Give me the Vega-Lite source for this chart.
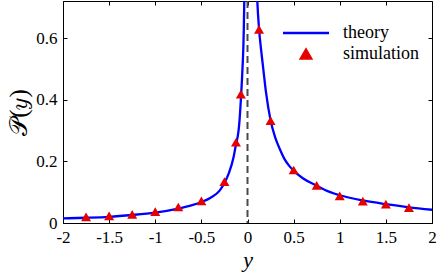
{
  "$schema": "https://vega.github.io/schema/vega-lite/v6.json",
  "autosize": {"type": "none"},
  "padding": {"left": 63, "top": 1, "right": 5, "bottom": 50},
  "width": 369,
  "height": 222,
  "background": "white",
  "config": {
    "view": {"stroke": "black", "strokeWidth": 1},
    "font": "serif",
    "axis": {"grid": false, "domainColor": "black", "tickColor": "black", "labelColor": "black", "labelFont": "serif", "labelFontSize": 17, "tickSize": -4, "domainWidth": 1, "tickWidth": 1, "labelFlush": false},
    "legend": {"labelFont": "serif", "labelFontSize": 18, "labelColor": "black"}
  },
  "datasets": {
    "theory": [
      {"x": -2, "p": 0.015, "branch": "L", "series": "theory"},
      {"x": -1.75, "p": 0.017, "branch": "L", "series": "theory"},
      {"x": -1.5, "p": 0.020, "branch": "L", "series": "theory"},
      {"x": -1.25, "p": 0.026, "branch": "L", "series": "theory"},
      {"x": -1, "p": 0.034, "branch": "L", "series": "theory"},
      {"x": -0.75, "p": 0.047, "branch": "L", "series": "theory"},
      {"x": -0.6, "p": 0.058, "branch": "L", "series": "theory"},
      {"x": -0.5, "p": 0.068, "branch": "L", "series": "theory"},
      {"x": -0.4, "p": 0.082, "branch": "L", "series": "theory"},
      {"x": -0.3, "p": 0.106, "branch": "L", "series": "theory"},
      {"x": -0.25, "p": 0.130, "branch": "L", "series": "theory"},
      {"x": -0.2, "p": 0.163, "branch": "L", "series": "theory"},
      {"x": -0.15, "p": 0.215, "branch": "L", "series": "theory"},
      {"x": -0.125, "p": 0.255, "branch": "L", "series": "theory"},
      {"x": -0.1, "p": 0.292, "branch": "L", "series": "theory"},
      {"x": -0.09, "p": 0.320, "branch": "L", "series": "theory"},
      {"x": -0.08, "p": 0.360, "branch": "L", "series": "theory"},
      {"x": -0.07, "p": 0.410, "branch": "L", "series": "theory"},
      {"x": -0.06, "p": 0.465, "branch": "L", "series": "theory"},
      {"x": -0.05, "p": 0.530, "branch": "L", "series": "theory"},
      {"x": -0.045, "p": 0.570, "branch": "L", "series": "theory"},
      {"x": -0.04, "p": 0.630, "branch": "L", "series": "theory"},
      {"x": -0.035, "p": 0.720, "branch": "L", "series": "theory"},
      {"x": -0.03, "p": 0.820, "branch": "L", "series": "theory"},
      {"x": 0.09, "p": 0.850, "branch": "R", "series": "theory"},
      {"x": 0.1, "p": 0.770, "branch": "R", "series": "theory"},
      {"x": 0.106, "p": 0.723, "branch": "R", "series": "theory"},
      {"x": 0.125, "p": 0.630, "branch": "R", "series": "theory"},
      {"x": 0.15, "p": 0.555, "branch": "R", "series": "theory"},
      {"x": 0.171, "p": 0.500, "branch": "R", "series": "theory"},
      {"x": 0.2, "p": 0.425, "branch": "R", "series": "theory"},
      {"x": 0.25, "p": 0.333, "branch": "R", "series": "theory"},
      {"x": 0.3, "p": 0.278, "branch": "R", "series": "theory"},
      {"x": 0.35, "p": 0.240, "branch": "R", "series": "theory"},
      {"x": 0.4, "p": 0.208, "branch": "R", "series": "theory"},
      {"x": 0.45, "p": 0.186, "branch": "R", "series": "theory"},
      {"x": 0.5, "p": 0.170, "branch": "R", "series": "theory"},
      {"x": 0.6, "p": 0.145, "branch": "R", "series": "theory"},
      {"x": 0.75, "p": 0.121, "branch": "R", "series": "theory"},
      {"x": 0.84, "p": 0.107, "branch": "R", "series": "theory"},
      {"x": 1, "p": 0.090, "branch": "R", "series": "theory"},
      {"x": 1.25, "p": 0.073, "branch": "R", "series": "theory"},
      {"x": 1.5, "p": 0.061, "branch": "R", "series": "theory"},
      {"x": 1.75, "p": 0.051, "branch": "R", "series": "theory"},
      {"x": 2, "p": 0.043, "branch": "R", "series": "theory"}
    ],
    "simulation": [
      {"x": -1.75, "p": 0.020, "series": "simulation"},
      {"x": -1.5, "p": 0.023, "series": "simulation"},
      {"x": -1.25, "p": 0.028, "series": "simulation"},
      {"x": -1, "p": 0.037, "series": "simulation"},
      {"x": -0.75, "p": 0.052, "series": "simulation"},
      {"x": -0.5, "p": 0.072, "series": "simulation"},
      {"x": -0.25, "p": 0.134, "series": "simulation"},
      {"x": -0.125, "p": 0.262, "series": "simulation"},
      {"x": -0.072, "p": 0.418, "series": "simulation"},
      {"x": 0.125, "p": 0.628, "series": "simulation"},
      {"x": 0.25, "p": 0.332, "series": "simulation"},
      {"x": 0.5, "p": 0.172, "series": "simulation"},
      {"x": 0.75, "p": 0.122, "series": "simulation"},
      {"x": 1, "p": 0.088, "series": "simulation"},
      {"x": 1.25, "p": 0.071, "series": "simulation"},
      {"x": 1.5, "p": 0.061, "series": "simulation"},
      {"x": 1.75, "p": 0.050, "series": "simulation"}
    ],
    "ref": [{"x": 0}]
  },
  "resolve": {"axis": {"x": "independent", "y": "independent"}},
  "layer": [
    {
      "data": {"name": "ref"},
      "mark": {"type": "rule", "color": "#4a4a4a", "strokeWidth": 2, "strokeDash": [7, 4]},
      "encoding": {
        "x": {"field": "x", "type": "quantitative", "scale": {"domain": [-2, 2], "nice": false, "zero": false}, "axis": {"orient": "top", "values": [-2, -1.5, -1, -0.5, 0, 0.5, 1, 1.5, 2], "labels": false, "title": null, "domain": false}}
      }
    },
    {
      "data": {"name": "theory"},
      "mark": {"type": "line", "strokeWidth": 2.3, "clip": true, "interpolate": "monotone"},
      "encoding": {
        "x": {"field": "x", "type": "quantitative", "scale": {"domain": [-2, 2], "nice": false, "zero": false},
          "axis": {"orient": "bottom", "values": [-2, -1.5, -1, -0.5, 0, 0.5, 1, 1.5, 2], "labelExpr": "'' + datum.value", "labelPadding": 10, "title": "y", "titleFont": "serif", "titleFontStyle": "italic", "titleFontWeight": "normal", "titleFontSize": 22, "titlePadding": 4}},
        "y": {"field": "p", "type": "quantitative", "scale": {"domain": [0, 0.72], "nice": false, "zero": false},
          "axis": {"orient": "left", "values": [0, 0.2, 0.4, 0.6], "labelExpr": "'' + datum.value", "labelPadding": 10, "title": "𝒫(𝑦)", "titleFont": "serif", "titleFontWeight": "normal", "titleFontSize": 25, "titlePadding": 4}},
        "detail": {"field": "branch"},
        "color": {"field": "series", "type": "nominal", "scale": {"domain": ["theory", "simulation"], "range": ["#0000ff", "#e60000"]},
          "legend": {"title": null, "orient": "none", "legendX": 234, "legendY": 23, "rowPadding": 2, "labelOffset": 28, "padding": 0,
            "labelFont": "serif", "labelFontSize": 18,
            "encode": {"symbols": {"update": {
              "fill": {"signal": "datum.value === 'theory' ? 'transparent' : '#e60000'"},
              "stroke": {"signal": "datum.value === 'theory' ? '#0000ff' : 'transparent'"},
              "strokeWidth": {"value": 2.3},
              "shape": {"signal": "datum.value === 'theory' ? 'stroke' : 'triangle-up'"},
              "size": {"signal": "datum.value === 'theory' ? 2116 : 110"},
              "opacity": {"value": 1}
            }}}}}
      }
    },
    {
      "data": {"name": "simulation"},
      "mark": {"type": "point", "filled": true, "opacity": 1, "size": 100, "shape": "triangle-up"},
      "encoding": {
        "x": {"field": "x", "type": "quantitative", "axis": null},
        "y": {"field": "p", "type": "quantitative", "axis": {"orient": "right", "values": [0, 0.2, 0.4, 0.6], "labels": false, "title": null, "domain": false}},
        "color": {"field": "series", "type": "nominal"}
      }
    }
  ]
}
